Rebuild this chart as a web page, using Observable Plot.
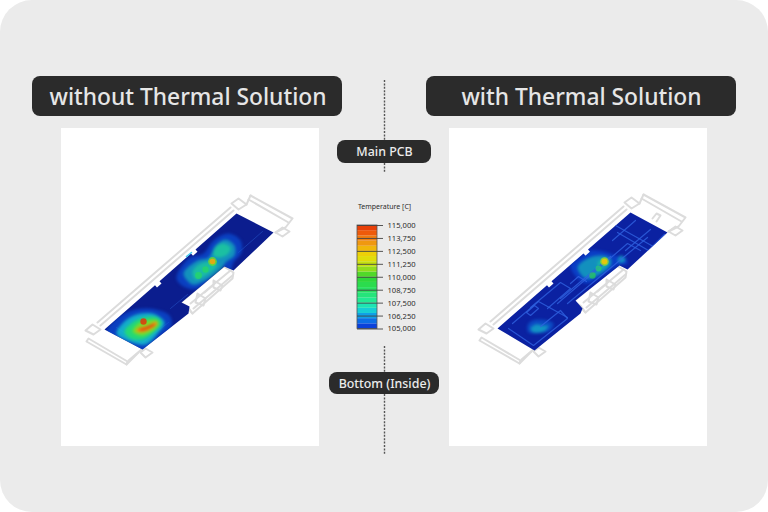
<!DOCTYPE html>
<html><head><meta charset="utf-8">
<script src="https://cdn.jsdelivr.net/npm/d3@7"></script>
<script src="https://cdn.jsdelivr.net/npm/@observablehq/plot@0.6"></script>
<style>
html,body{margin:0;padding:0;background:#fff;width:768px;height:512px;overflow:hidden}
svg{display:block}
.softer{filter:blur(0.55px)}
</style></head><body><div id="chart"></div>
<script>
// --- temperature key ---
const tempTicks = [105, 106.25, 107.5, 108.75, 110, 111.25, 112.5, 113.75, 115];
const tempLabels = ["105,000","106,250","107,500","108,750","110,000","111,250","112,500","113,750","115,000"];
const colorDomain = [104.3, 105, 105.6, 106.25, 106.9, 107.5, 108.75, 110, 110.6, 111.25, 111.9, 112.5, 113.1, 113.75, 114.4, 115, 116];
const colorRange = ["#0b1d8e","#0a2cd2","#0a5ee6","#10a0e6","#18dcd0","#20eca0","#28e060","#30d630","#80de20","#c4e010","#e8dc08","#f0c808","#f0a010","#f07c10","#ee5008","#e43408","#a01808"];
const legendBands = [105,105.5,106,106.5,107,107.5,108,108.5,109,109.5,110,110.5,111,111.5,112,112.5,113,113.5,114,114.5];

// --- boards (temperature floor per panel) ---
const boardLeft = [[236,213],[273,232],[233,270],[224,266],[181,302],[189,306],[188,313],[142,349],[104,329],[154.5,284.8],[156.5,287],[161,283],[159,280.7],[190.5,253],[192.5,255.2],[197,251.2],[195,249]];
const boardRight = [[630,212],[667,232],[627,269],[619,265],[575,300],[582,308],[580,313],[534,350],[497,328],[546.5,284.8],[548.5,287],[553,283],[551,280.7],[583,253],[585,255.2],[589.5,251.2],[587.5,249]];

// --- heat contours: [temperature, opacity, points] ---
const hotLeft = [
 [105.5,.6,[[176,278],[188,258],[203,253],[213,240],[228,233],[240,240],[241,252],[233,262],[230,270],[223,266],[198,288],[185,287]]],
 [107.2,.5,[[183,273],[197,260],[208,257],[215,245],[225,239],[234,245],[234,255],[225,262],[220,270],[203,281],[192,284]]],
 [107.9,.55,[[213,255],[215,247],[222,243],[230,247],[228,253],[220,257]]],
 [107.9,.5,[[192,271],[200,263],[213,261],[217,265],[202,277],[195,279]]],
 [105.5,.6,[[106,332],[118,317],[135,309],[155,309],[169,315],[171,325],[157,338],[143,350],[125,343]]],
 [106.9,.7,[[116,333],[125,320],[140,313],[155,314],[164,322],[158,332],[145,344],[129,341]]],
 [108.6,.85,[[124,331],[132,322],[143,317],[157,317],[161,323],[152,333],[142,339],[130,338]]],
 [110.6,.85,[[132,331],[138,323],[147,320],[157,320],[158,325],[148,333],[140,335]]],
 [113.2,.95,[[135,330],[142,326],[148,325],[155,321],[157,323],[148,330],[140,332]]],
 [115,1,[[138,329],[145,327],[152,324],[155,324],[148,328],[142,330]]]
];
const hotRight = [
 [105.5,.55,[[570,265],[580,257],[590,250],[607,252],[615,255],[625,258],[627,263],[618,265],[587,283],[578,279]]],
 [107.2,.5,[[577,267],[587,258],[600,255],[610,258],[610,265],[593,277],[585,278]]],
 [107.9,.4,[[597,262],[605,258],[608,262],[600,268]]],
 [107,.5,[[620,255],[625,258],[623,262],[617,261]]],
 [105.8,.5,[[527,325],[532,320],[547,320],[553,323],[550,330],[535,333],[528,332]]],
 [107,.5,[[530,328],[535,324],[543,325],[548,325],[545,330],[533,332]]]
];
const hotDots = [
 [212,261,1.5,110.5,.75],[212,261,0.6,113,.9],[205,269,.8,109,.6],[198,275,.9,109,.6],[143,321,.8,115,.85],
 [604,261,1.4,111,.75],[604,261,.6,112.5,.9],[598,268,.7,108.8,.6],[592,275,.8,109.5,.6]
];

// --- copper traces seen through the board ---
const tracesRight = [
 [[508,328],[533,345],[567,318],[560,310],[540,326]],
 [[512,323],[538,301],[567,317]],
 [[530,307],[560,282],[570,288],[547,308]],
 [[557,303],[627,243],[640,250]],
 [[567,303],[647,237]],
 [[560,298],[610,256]],
 [[615,225],[660,250]],
 [[617,232],[648,250],[664,234]],
 [[625,250],[650,229]],
 [[612,240],[635,220]],
 [[526,312],[534,305],[538,308],[530,315],[526,312]],
 [[570,283],[578,276],[586,281]]
];
const tracesLeft = [
 [[262,231],[238,252]],[[170,308],[187,294]],[[116,327],[141,343],[168,322]]
];

// --- wireframe enclosure (left panel; repeated on the right) ---
const wire = [
 [[231,203],[238,198],[246,204],[238,209],[231,203]],
 [[250,195],[292,218],[285,227],[275,232]],[[248,199],[288,222]],[[250,195],[246,204]],
 [[275,232],[282,227],[289,231],[282,236],[275,232]],
 [[100,325],[233,210]],[[97,322],[230,207]],
 [[85,330],[92,324],[100,329],[93,334],[85,330]],
 [[86,341],[88,338],[127,361],[126,364],[86,341]],[[126,364],[138,352]],[[128,360],[141,349]],
 [[140,352],[145,348],[152,352],[145,357],[140,352]],
 [[180,302],[223,266],[233,272],[232,278],[192,313],[185,305],[180,302]],
 [[190,303],[230,270]],[[193,308],[232,275]],
 [[197,293],[205,298],[203,305],[195,302],[197,293]],
 [[213,280],[222,285],[220,290],[213,287],[213,280]],
 [[204,292],[212,285]],[[187,306],[192,313]]
];
const wireExtraRight = [[[652,218],[656,213],[660,215],[656,221]]];
const cyanStreaks = [[[186,256],[191,252]]];

// --- frame, panels, labels ---
const panels = [{x1:61,x2:319,y1:128,y2:446},{x1:449,x2:707,y1:128,y2:446}];
const pills = [
 {x1:32,x2:342,y1:76,y2:116},{x1:426,x2:736,y1:76,y2:116},
 {x1:337,x2:431,y1:140,y2:163},{x1:329,x2:439,y1:372,y2:394}
];
const titles = [{x:187.5,y:97,t:"without Thermal Solution"},{x:581,y:97,t:"with Thermal Solution"}];
const chips = [{x:384,y:152,t:"Main PCB"},{x:384,y:383.5,t:"Bottom (Inside)"}];
const dashes = [{y1:80,y2:140},{y1:163,y2:172},{y1:346,y2:372},{y1:394,y2:455}];
const KEY = {x0:357,x1:377,tick:383,lab:387,bottom:328.5,top:225};

const keyY = d3.scaleLinear([105,115],[KEY.bottom,KEY.top]);
const flat = (list, tag) => list.flatMap(([t,o,pts],i)=>pts.map(([x,y])=>({x,y,t,o,id:tag+i})));
const flatLines = (list, tag, dx=0, dy=0) => list.flatMap((pts,i)=>pts.map(([x,y])=>({x:x+dx,y:y+dy,id:tag+i})));
const closed = (pts, t, id) => pts.map(([x,y])=>({x,y,t,id}));
const curveOpt = {x:"x",y:"y",z:"id",fill:"t",fillOpacity:{value:"o",scale:null},stroke:"none",curve:"catmull-rom-closed"};
const wireStyle = {x:"x",y:"y",z:"id",stroke:"#dcdcdc",strokeWidth:2,className:"softer"};

const plot = Plot.plot({
  width:768,height:512,margin:0,
  x:{domain:[0,768],range:[0,768],axis:null},
  y:{domain:[0,512],range:[0,512],axis:null},
  color:{type:"linear",domain:colorDomain,range:colorRange},
  style:{background:"transparent"},
  marks:[
    Plot.rect([{}],{x1:()=>0,x2:()=>768,y1:()=>0,y2:()=>512,rx:32,fill:"#ebebeb"}),
    Plot.rect(panels,{x1:"x1",x2:"x2",y1:"y1",y2:"y2",fill:"#fff"}),
    Plot.rect(pills,{x1:"x1",x2:"x2",y1:"y1",y2:"y2",rx:8,fill:"#2b2b2b"}),
    Plot.text(titles,{x:"x",y:"y",text:"t",fill:"#e6e6e6",fontSize:22.8,fontWeight:500,fontFamily:"Noto Sans"}),
    Plot.text(chips,{x:"x",y:"y",text:"t",fill:"#ececec",fontSize:12.4,fontWeight:500,fontFamily:"Noto Sans"}),
    Plot.ruleX(dashes,{x:()=>384,y1:"y1",y2:"y2",stroke:"#555",strokeWidth:1.4,strokeDasharray:"2,1.4"}),

    // wireframes
    Plot.line(flatLines(wire,"wl"),wireStyle),
    Plot.line(flatLines(wire,"wr",393,-1),wireStyle),
    Plot.line(flatLines(wireExtraRight,"we"),wireStyle),

    // boards
    Plot.line(closed(boardLeft,104.3,"bl"),{x:"x",y:"y",z:"id",fill:"t",stroke:"none",curve:"linear-closed",className:"softer"}),
    Plot.line(closed(boardRight,104.5,"br"),{x:"x",y:"y",z:"id",fill:"t",stroke:"none",curve:"linear-closed",className:"softer"}),

    // heat + traces
    Plot.line(flatLines(tracesLeft,"tl"),{x:"x",y:"y",z:"id",stroke:"#1a3cae",strokeWidth:1,className:"softer"}),
    Plot.line(flat(hotLeft,"hl"),{...curveOpt,className:"clipL"}),
    Plot.line(flat(hotRight,"hr"),{...curveOpt,className:"clipR"}),
    Plot.line(flatLines(tracesRight,"tr"),{x:"x",y:"y",z:"id",stroke:"#2f62e0",strokeWidth:1.2,strokeOpacity:0.8,className:"clipT"}),
    Plot.dot(hotDots,{x:d=>d[0],y:d=>d[1],r:d=>d[2],fill:d=>d[3],fillOpacity:{value:d=>d[4],scale:null},stroke:"none",className:"softer"}),
    Plot.line(flatLines(cyanStreaks,"cy"),{x:"x",y:"y",z:"id",stroke:"#40c8f0",strokeWidth:1.5,className:"softer"}),

    // temperature key
    Plot.text(["Temperature [C]"],{x:()=>384,y:()=>206,text:d=>d,fontSize:7,fontFamily:"Noto Sans",fill:"#2b2b2b"}),
    Plot.rect(legendBands,{x1:()=>KEY.x0,x2:()=>KEY.x1,y1:d=>keyY(d),y2:d=>keyY(d+0.5),fill:d=>d+0.25,className:"softer"}),
    Plot.rect([{}],{x1:()=>KEY.x0,x2:()=>KEY.x1,y1:()=>KEY.top,y2:()=>KEY.bottom,fill:"none",stroke:"#555",strokeWidth:0.8}),
    Plot.ruleY(tempTicks,{y:d=>keyY(d),x1:()=>KEY.x0,x2:()=>KEY.tick,stroke:"#444",strokeWidth:0.9}),
    Plot.text(tempTicks,{x:()=>KEY.lab,y:d=>keyY(d),text:(d,i)=>tempLabels[i],textAnchor:"start",fontSize:7.6,fontFamily:"Noto Sans",fill:"#2b2b2b"})
  ]
});
document.getElementById("chart").append(plot);

// clip the heat contours to their boards, drawn through the plot's own scales
const sx = plot.scale("x"), sy = plot.scale("y");
const defs = d3.select(plot).append("defs");
[["clipL",boardLeft,1.6],["clipR",boardRight,1.6],["clipT",boardRight,0.45]].forEach(([id,pts,blur])=>{
  defs.append("clipPath").attr("id","cp-"+id).append("path")
    .attr("d",d3.line(p=>sx.apply(p[0]),p=>sy.apply(p[1])).curve(d3.curveLinearClosed)(pts));
  d3.select(plot).selectAll("."+id).attr("clip-path",`url(#cp-${id})`).style("filter",`blur(${blur}px)`);
});
</script></body></html>
